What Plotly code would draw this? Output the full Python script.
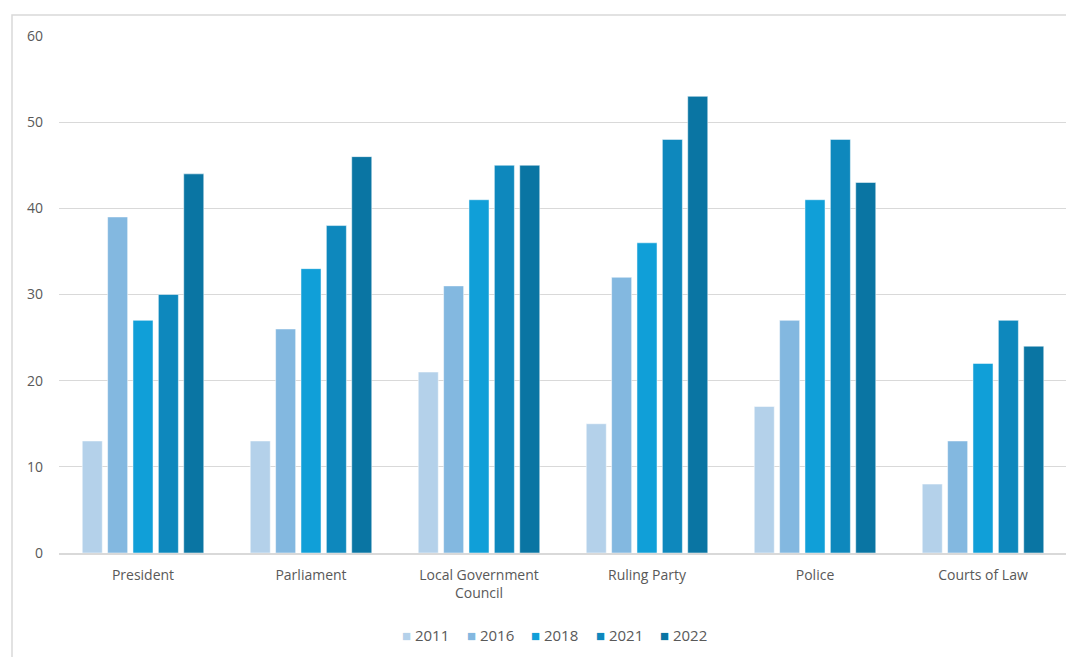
import plotly.graph_objects as go

categories = ["President", "Parliament", "Local Government<br>Council", "Ruling Party", "Police", "Courts of Law"]
years = ["2011", "2016", "2018", "2021", "2022"]
v2011 = [13, 13, 21, 15, 17, 8]
v2016 = [39, 26, 31, 32, 27, 13]
v2018 = [27, 33, 41, 36, 41, 22]
v2021 = [30, 38, 45, 48, 48, 27]
v2022 = [44, 46, 45, 53, 43, 24]
series = [v2011, v2016, v2018, v2021, v2022]
colors = ["#B4D1EA", "#83B8E0", "#109FD8", "#0E88BD", "#0A75A3"]

FONT = "Open Sans, Roboto, sans-serif"
GREY = "#595959"

fig = go.Figure()
for name, vals, col in zip(years, series, colors):
    fig.add_trace(go.Bar(x=categories, y=vals, name=name,
                         marker=dict(color=col, line=dict(color="white", width=0.5))))

# page body has an 8px margin, so the figure is sized to the visible area
W, H = 1066, 649
L, R, T, B = 51, 7, 28, 104
pw, ph = W - L - R, H - T - B

# legend drawn as compact text entries (square + year) like the original
legend_annots = []
for i, (name, col) in enumerate(zip(years, colors)):
    x_sq = (400 - 59 + i * 64.5) / pw
    legend_annots.append(dict(
        xref="paper", yref="paper", x=x_sq, y=-(635 - 553) / ph,
        xanchor="left", yanchor="middle", showarrow=False,
        text=f'<span style="color:{col}">■</span> {name}',
        font=dict(family=FONT, size=15, color=GREY)))

fig.update_layout(
    width=W, height=H,
    margin=dict(l=L, r=R, t=T, b=B),
    paper_bgcolor="white", plot_bgcolor="white",
    barmode="group", bargap=0.245, bargroupgap=0.21,
    font=dict(family=FONT, size=14, color=GREY),
    showlegend=False,
    annotations=legend_annots,
    xaxis=dict(showgrid=False, showline=True, linecolor="#D9D9D9", linewidth=1.5,
               ticks="", ticklabelstandoff=8, tickfont=dict(family=FONT, size=14, color=GREY)),
    yaxis=dict(range=[0, 60], dtick=10, showgrid=True, gridcolor="#D9D9D9", gridwidth=1.2,
               zeroline=False, showline=False, ticks="", ticklabelstandoff=15,
               tickfont=dict(family=FONT, size=14, color=GREY)),
    shapes=[dict(type="rect", xref="paper", yref="paper",
                 x0=(12 - 59) / pw, x1=1 + 30 / pw,
                 y0=-(B + 30) / ph, y1=1 + (36 - 15) / ph,
                 line=dict(color="#D9D9D9", width=1.5), fillcolor="rgba(0,0,0,0)", layer="below")],
)

fig.write_html("out.html")
